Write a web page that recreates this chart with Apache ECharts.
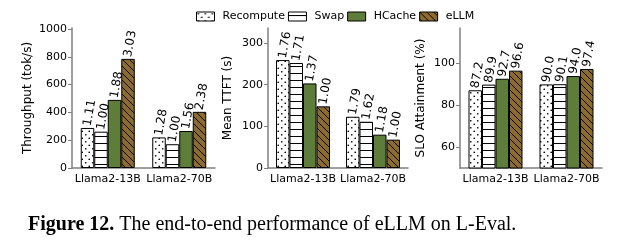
<!DOCTYPE html>
<html><head><meta charset="utf-8">
<script src="https://cdn.jsdelivr.net/npm/echarts@6/dist/echarts.min.js"></script>
<style>html,body{margin:0;padding:0;background:#fff}#c{width:622px;height:245px}</style>
</head><body><div id="c"></div>
<script>
const categories = ['Llama2-13B', 'Llama2-70B'];
const seriesNames = ['Recompute', 'Swap', 'HCache', 'eLLM'];
// Throughput (tok/s)
const thrRecompute = [288, 220];
const thrSwap = [261, 171];
const thrHCache = [490, 266];
const thrELLM = [785, 404];
const thrLabels = [['1.11','1.28'],['1.00','1.00'],['1.88','1.56'],['3.03','2.38']];
// Mean TTFT (s)
const ttftRecompute = [259, 123];
const ttftSwap = [252, 111];
const ttftHCache = [203, 80];
const ttftELLM = [148, 68];
const ttftLabels = [['1.76','1.79'],['1.71','1.62'],['1.37','1.18'],['1.00','1.00']];
// SLO Attainment (%)
const sloRecompute = [87.2, 90.0];
const sloSwap = [89.9, 90.1];
const sloHCache = [92.7, 94.0];
const sloELLM = [96.6, 97.4];
const sloLabels = [['87.2','90.0'],['89.9','90.1'],['92.7','94.0'],['96.6','97.4']];
const thrTicks = [0, 200, 400, 600, 800, 1000];
const ttftTicks = [0, 100, 200, 300];
const sloTicks = [60, 80, 100];

function pat(draw){
  const c=document.createElement('canvas'); c.width=7; c.height=7;
  const g=c.getContext('2d'); draw(g); return {image:c, repeat:'repeat'};
}
const cDots = pat(g=>{g.fillStyle='#fff';g.fillRect(0,0,7,7);g.fillStyle='#000';
  g.beginPath();g.arc(1.75,1.75,0.85,0,Math.PI*2);g.fill();
  g.beginPath();g.arc(5.25,5.25,0.85,0,Math.PI*2);g.fill();});
const cLines = pat(g=>{g.fillStyle='#fff';g.fillRect(0,0,7,7);g.fillStyle='#000';g.fillRect(0,3,7,1);});
const cGreen = '#5f7d3a';
const cHatch = pat(g=>{g.fillStyle='#8c6b2d';g.fillRect(0,0,7,7);g.strokeStyle='#000';g.lineWidth=1;
  g.beginPath();g.moveTo(-1,-1);g.lineTo(8,8);g.moveTo(-1,6);g.lineTo(1,8);g.moveTo(6,-1);g.lineTo(8,1);g.stroke();});
const colors = [cDots, cLines, cGreen, cHatch];

const FONT = 'DejaVu Sans';
const grids = [
  {left:72, width:143, top:28, height:140},
  {left:268, width:140, top:28, height:140},
  {left:460, width:142, top:28, height:140}
];
const yInfo = [
  {name:'Throughput (tok/s)', min:0, max:1007, ticks:thrTicks, gap:38},
  {name:'Mean TTFT (s)', min:0, max:336, ticks:ttftTicks, gap:34},
  {name:'SLO Attainment (%)', min:50, max:117, ticks:sloTicks, gap:33}
];
const data = [
  [thrRecompute, thrSwap, thrHCache, thrELLM],
  [ttftRecompute, ttftSwap, ttftHCache, ttftELLM],
  [sloRecompute, sloSwap, sloHCache, sloELLM]
];
const labels = [thrLabels, ttftLabels, sloLabels];
const axisLineStyle = {color:'#808080', width:1.5};

const xAxis = grids.map((g,i)=>({type:'category', gridIndex:i, data:categories,
  axisLine:{lineStyle:axisLineStyle}, axisTick:{alignWithLabel:true, length:4, lineStyle:{color:'#808080'}},
  axisLabel:{interval:0, hideOverlap:false, color:'#000', fontFamily:FONT, fontSize:11, margin:6}}));
const yAxis = yInfo.map((y,i)=>({type:'value', gridIndex:i, min:y.min, max:y.max,
  name:y.name, nameLocation:'middle', nameGap:y.gap, nameRotate:90,
  nameTextStyle:{color:'#000', fontFamily:FONT, fontSize:12},
  splitLine:{show:false}, axisLine:{show:true, lineStyle:axisLineStyle},
  axisTick:{show:true, length:4, lineStyle:{color:'#808080'}, customValues:y.ticks},
  axisLabel:{color:'#000', fontFamily:FONT, fontSize:11, margin:5, customValues:y.ticks,
    formatter:(v)=>String(v)}}));
const series = [];
for (let p=0;p<3;p++){
  for (let s=0;s<4;s++){
    const lab = labels[p][s];
    series.push({type:'bar', name:seriesNames[s], xAxisIndex:p, yAxisIndex:p,
      data:data[p][s], barWidth:13.5, barGap:'0%',
      itemStyle:{color:colors[s], borderColor:'#000', borderWidth:1},
      label:{show:true, position:'top', rotate:80, align:'left', verticalAlign:'middle', distance:2,
        fontFamily:FONT, fontSize:12, color:'#000',
        formatter:(prm)=>lab[prm.dataIndex]}});
  }
}
const chart = echarts.init(document.getElementById('c'), null, {renderer:'canvas'});
chart.setOption({
  animation:false,
  legend:{left:196, top:11, padding:0, itemWidth:18, itemHeight:9, itemGap:3, data:seriesNames, icon:'rect',
    textStyle:{fontFamily:FONT, fontSize:11, color:'#000', padding:[0,0,0,3]},
    itemStyle:{borderColor:'#000', borderWidth:1}},
  title:{left:23, top:210, text:'{b|Figure 12.} The end-to-end performance of eLLM on L-Eval.',
    textStyle:{fontFamily:'Liberation Serif', fontSize:20, fontWeight:'normal', color:'#000',
      rich:{b:{fontFamily:'Liberation Serif', fontSize:20, fontWeight:'bold', color:'#000'}}}},
  grid:grids, xAxis:xAxis, yAxis:yAxis, series:series
});
</script></body></html>
